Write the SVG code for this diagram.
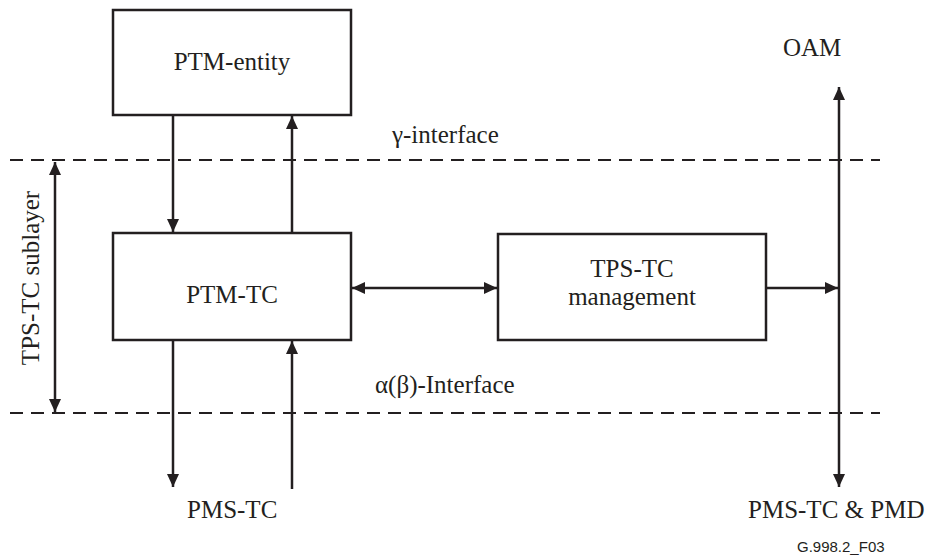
<svg xmlns="http://www.w3.org/2000/svg" width="933" height="555" viewBox="0 0 933 555">
<style>
.box{fill:#fff;stroke:#231f20;stroke-width:2.5}
.ln{stroke:#231f20;stroke-width:2.5;fill:none}
.dash{stroke:#231f20;stroke-width:2.2;stroke-dasharray:13 8;fill:none}
.t{font-family:"Liberation Serif","Times New Roman",Times,serif;font-size:25px;fill:#231f20}
.c{text-anchor:middle}
.s{font-family:"Liberation Sans",Arial,sans-serif;font-size:15px;fill:#231f20}
</style>
<defs>
<marker id="ah" markerUnits="userSpaceOnUse" markerWidth="14" markerHeight="14" viewBox="0 0 14 14" refX="13" refY="7" orient="auto-start-reverse">
<path d="M0,1 L13,7 L0,13 Z" fill="#231f20"/>
</marker>
</defs>
<rect width="933" height="555" fill="#fff"/>
<g id="interfaces">
<line class="dash" x1="10" y1="160" x2="880" y2="160"/>
<line class="dash" x1="10" y1="413" x2="880" y2="413"/>
<text class="t" x="392" y="143">γ-interface</text>
<text class="t" x="375" y="393">α(β)-Interface</text>
</g>
<g id="connectors">
<line class="ln" x1="173" y1="115" x2="173" y2="232" marker-end="url(#ah)"/>
<line class="ln" x1="292" y1="233" x2="292" y2="116" marker-end="url(#ah)"/>
<line class="ln" x1="55" y1="162" x2="55" y2="412" marker-start="url(#ah)" marker-end="url(#ah)"/>
<line class="ln" x1="352" y1="288" x2="497" y2="288" marker-start="url(#ah)" marker-end="url(#ah)"/>
<line class="ln" x1="766" y1="288" x2="838" y2="288" marker-end="url(#ah)"/>
<line class="ln" x1="839" y1="87" x2="839" y2="487" marker-start="url(#ah)" marker-end="url(#ah)"/>
<line class="ln" x1="173" y1="340" x2="173" y2="487" marker-end="url(#ah)"/>
<line class="ln" x1="292" y1="489" x2="292" y2="341" marker-end="url(#ah)"/>
</g>
<g id="ptm-entity">
<rect class="box" x="113" y="10" width="238" height="105"/>
<text class="t c" x="232" y="70">PTM-entity</text>
</g>
<g id="ptm-tc">
<rect class="box" x="113" y="233" width="238" height="107"/>
<text class="t c" x="232" y="303">PTM-TC</text>
</g>
<g id="tps-tc-management">
<rect class="box" x="498" y="234" width="268" height="106"/>
<text class="t c" x="632" y="277">TPS-TC</text>
<text class="t c" x="632" y="305">management</text>
</g>
<g id="labels">
<text class="t c" transform="translate(39,278) rotate(-90)">TPS-TC sublayer</text>
<text class="t" x="783" y="56">OAM</text>
<text class="t" x="187" y="518">PMS-TC</text>
<text class="t" x="748" y="518">PMS-TC &amp; PMD</text>
<text class="s" x="797" y="552">G.998.2_F03</text>
</g>
</svg>
